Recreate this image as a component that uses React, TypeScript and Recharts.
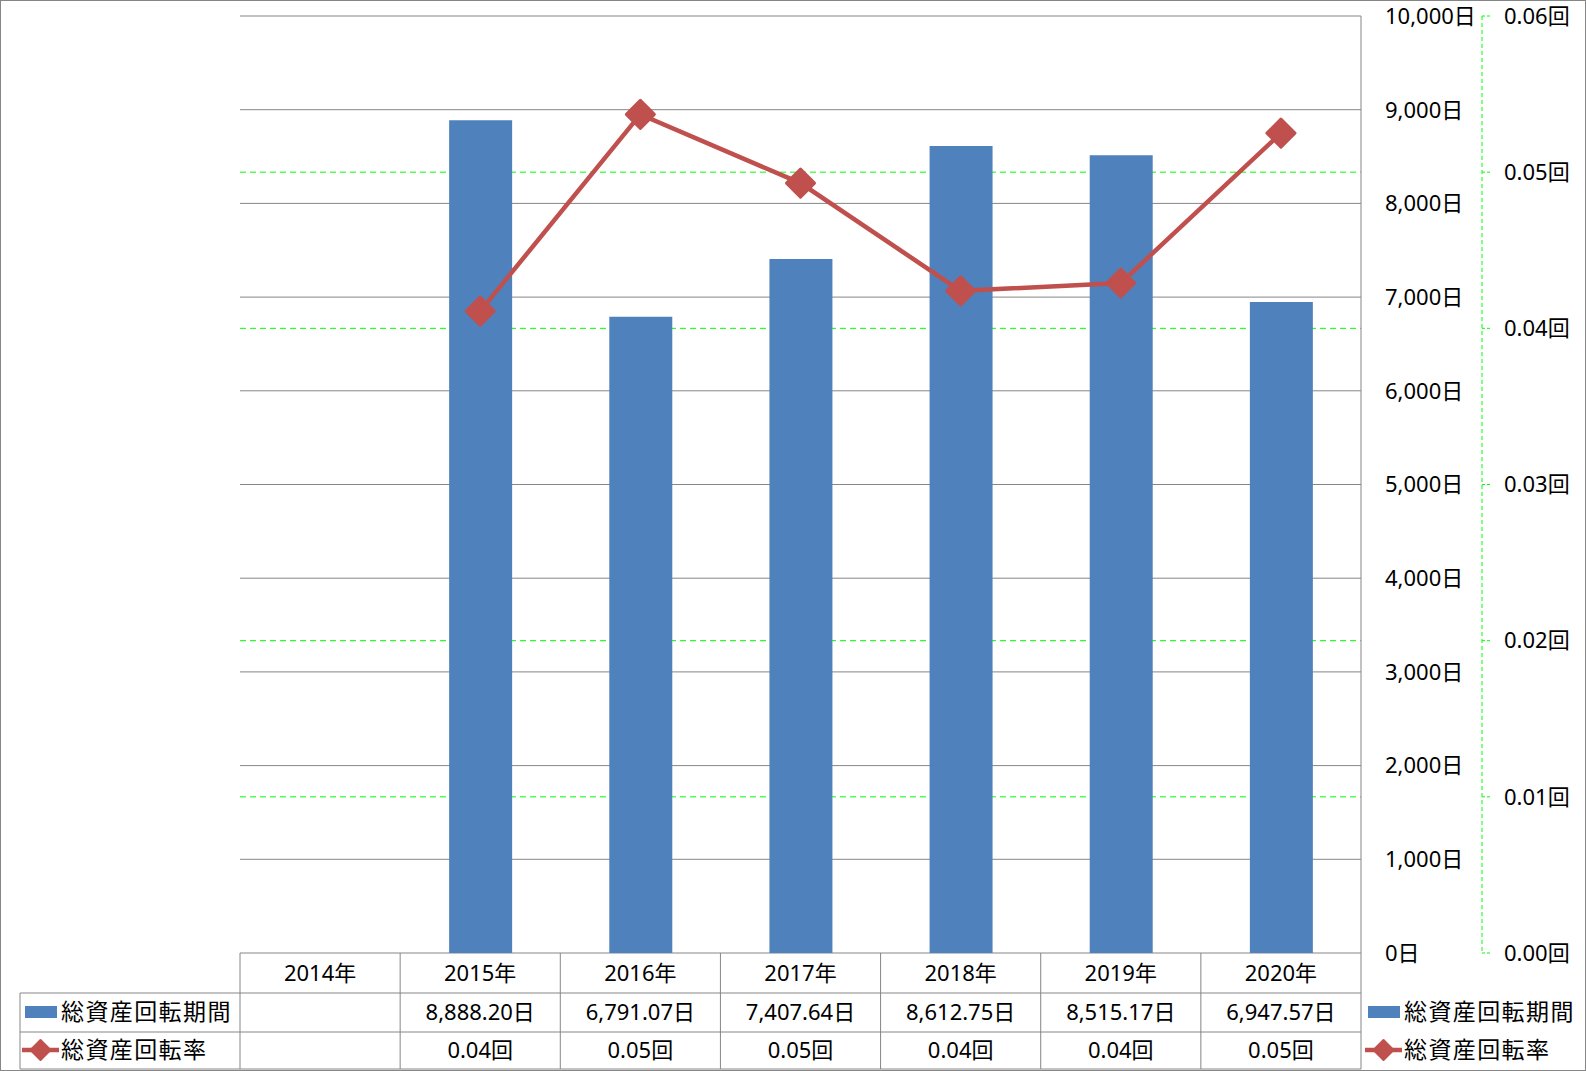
import React from 'react';
import { ComposedChart, Bar, Line, XAxis, YAxis, CartesianGrid, Customized } from 'recharts';

// ---- data ----
const years = ['2014年', '2015年', '2016年', '2017年', '2018年', '2019年', '2020年'];
const periodDays: (number | null)[] = [null, 8888.2, 6791.07, 7407.64, 8612.75, 8515.17, 6947.57];
const turnoverRate: (number | null)[] = [null, 0.0411, 0.0537, 0.0493, 0.0424, 0.0429, 0.0525];
const seriesNames = ['総資産回転期間', '総資産回転率'];
const dayTicks = [0, 1000, 2000, 3000, 4000, 5000, 6000, 7000, 8000, 9000, 10000];
const rateTicks = [0, 0.01, 0.02, 0.03, 0.04, 0.05, 0.06];

const data = years.map((year, i) => ({ year, period: periodDays[i], rate: turnoverRate[i] }));

// ---- layout / style ----
const W = 1586;
const H = 1071;
const PLOT_L = 240;
const PLOT_R = 1361;
const PLOT_T = 16;
const PLOT_B = 953;
const ROW1 = 993;
const ROW2 = 1032;
const TABLE_B = 1069;
const Y_HEAD = 973;
const Y_P = 1012;
const Y_R = 1050;
const BLUE = '#4F81BD';
const RED = '#C0504D';
const GRID = '#868686';
const GREEN = '#00FF00';
const FONT = "'Noto Sans', 'Noto Sans CJK JP', sans-serif";
const FS = 22;

const fmtDays = (v: number) =>
  v.toLocaleString('en-US', { minimumFractionDigits: 2, maximumFractionDigits: 2 }) + '日';
const fmtRate = (v: number) => v.toFixed(2) + '回';

const txt = (x: number, y: number, s: string, anchor: 'start' | 'middle' | 'end' = 'middle', size = FS, ls = 0) => (
  <text
    x={x}
    y={y}
    dy="0.36em"
    textAnchor={anchor}
    fontFamily={FONT}
    fontSize={size}
    letterSpacing={ls}
    fill="#000"
  >
    {s}
  </text>
);

const TableTick = (props: any) => {
  const { x, payload } = props;
  const index = props.index ?? payload?.index ?? 0;
  const band = (PLOT_R - PLOT_L) / years.length;
  const p = periodDays[index];
  const r = turnoverRate[index];
  return (
    <g>
      <line x1={x - band / 2} x2={x - band / 2} y1={PLOT_B} y2={TABLE_B} stroke={GRID} strokeWidth={1} />
      {txt(x, Y_HEAD, String(payload.value))}
      {p != null && txt(x, Y_P, fmtDays(p))}
      {r != null && txt(x, Y_R, fmtRate(r))}
    </g>
  );
};

const diamondPts = (cx: number, cy: number, s: number) =>
  `${cx},${cy - s} ${cx + s},${cy} ${cx},${cy + s} ${cx - s},${cy}`;

const Diamond = (props: any) => {
  const { cx, cy, value, index } = props;
  if (cx == null || cy == null || value == null) return <g key={`d${index}`} />;
  return (
    <polygon
      key={`d${index}`}
      points={diamondPts(cx, cy, 14)}
      fill={RED}
      stroke={RED}
      strokeWidth={3}
      strokeLinejoin="round"
    />
  );
};

const LegendKeys = (x0: number, xText: number) => (
  <g>
    <rect x={x0 + 3} y={Y_P - 6} width={32} height={12} fill={BLUE} />
    {txt(xText, Y_P, seriesNames[0], 'start', 23, 1.4)}
    <line x1={x0} x2={x0 + 37} y1={Y_R} y2={Y_R} stroke={RED} strokeWidth={4.5} />
    <polygon points={diamondPts(x0 + 18.5, Y_R, 10)} fill={RED} stroke={RED} strokeWidth={2} strokeLinejoin="round" />
    {txt(xText, Y_R, seriesNames[1], 'start', 23, 1.4)}
  </g>
);

const Frame = () => (
  <g>
    <rect x={0.5} y={0.5} width={W - 1} height={H - 1} fill="none" stroke={GRID} strokeWidth={1} />
    <line x1={PLOT_L} x2={PLOT_R} y1={PLOT_T} y2={PLOT_T} stroke="#fff" strokeWidth={2.5} />
    <line x1={PLOT_L} x2={PLOT_R} y1={PLOT_T} y2={PLOT_T} stroke={GRID} strokeWidth={1} />
    <line x1={PLOT_L} x2={PLOT_R} y1={PLOT_B} y2={PLOT_B} stroke="#fff" strokeWidth={2.5} />
    <line x1={PLOT_L} x2={PLOT_R} y1={PLOT_B} y2={PLOT_B} stroke={GRID} strokeWidth={1} />
    <line x1={20} x2={PLOT_R} y1={ROW1} y2={ROW1} stroke={GRID} strokeWidth={1} />
    <line x1={20} x2={PLOT_R} y1={ROW2} y2={ROW2} stroke={GRID} strokeWidth={1} />
    <line x1={20} x2={PLOT_R} y1={TABLE_B} y2={TABLE_B} stroke={GRID} strokeWidth={1} />
    <line x1={20} x2={20} y1={ROW1} y2={TABLE_B} stroke={GRID} strokeWidth={1} />
    <line x1={PLOT_R} x2={PLOT_R} y1={PLOT_B} y2={TABLE_B} stroke={GRID} strokeWidth={1} />
    {LegendKeys(22, 61)}
    {LegendKeys(1365, 1404)}
  </g>
);

export default function App() {
  return (
    <div style={{ position: 'absolute', left: 0, top: 0, width: W, height: H, background: '#fff' }}>
      <ComposedChart width={W} height={H} data={data} margin={{ top: PLOT_T, left: PLOT_L, right: 0, bottom: 0 }}>
        <CartesianGrid yAxisId="s" vertical={false} stroke={GREEN} strokeDasharray="6 4" />
        <CartesianGrid yAxisId="p" vertical={false} stroke={GRID} />
        <XAxis
          dataKey="year"
          height={118}
          axisLine={false}
          tickLine={false}
          tickSize={0}
          tickMargin={0}
          interval={0}
          tick={TableTick}
        />
        <YAxis
          yAxisId="p"
          orientation="right"
          width={121}
          domain={[0, 10000]}
          ticks={dayTicks}
          interval={0}
          axisLine={{ stroke: GRID }}
          tickLine={false}
          tickSize={0}
          tickMargin={24}
          tickFormatter={(v: number) => v.toLocaleString('en-US') + '日'}
          tick={{ fill: '#000', fontSize: FS, fontFamily: FONT }}
        />
        <YAxis
          yAxisId="s"
          orientation="right"
          width={104}
          domain={[0, 0.06]}
          ticks={rateTicks}
          interval={0}
          axisLine={{ stroke: GREEN, strokeDasharray: '4 3' }}
          tickLine={{ stroke: GREEN, strokeDasharray: '3 2' }}
          tickSize={8}
          tickMargin={14}
          tickFormatter={(v: number) => v.toFixed(2) + '回'}
          tick={{ fill: '#000', fontSize: FS, fontFamily: FONT }}
        />
        <Bar yAxisId="p" dataKey="period" fill={BLUE} barSize={63} isAnimationActive={false} />
        <Line
          yAxisId="s"
          dataKey="rate"
          stroke={RED}
          strokeWidth={4.5}
          dot={Diamond}
          activeDot={false}
          isAnimationActive={false}
        />
        <Customized component={Frame} />
      </ComposedChart>
    </div>
  );
}
